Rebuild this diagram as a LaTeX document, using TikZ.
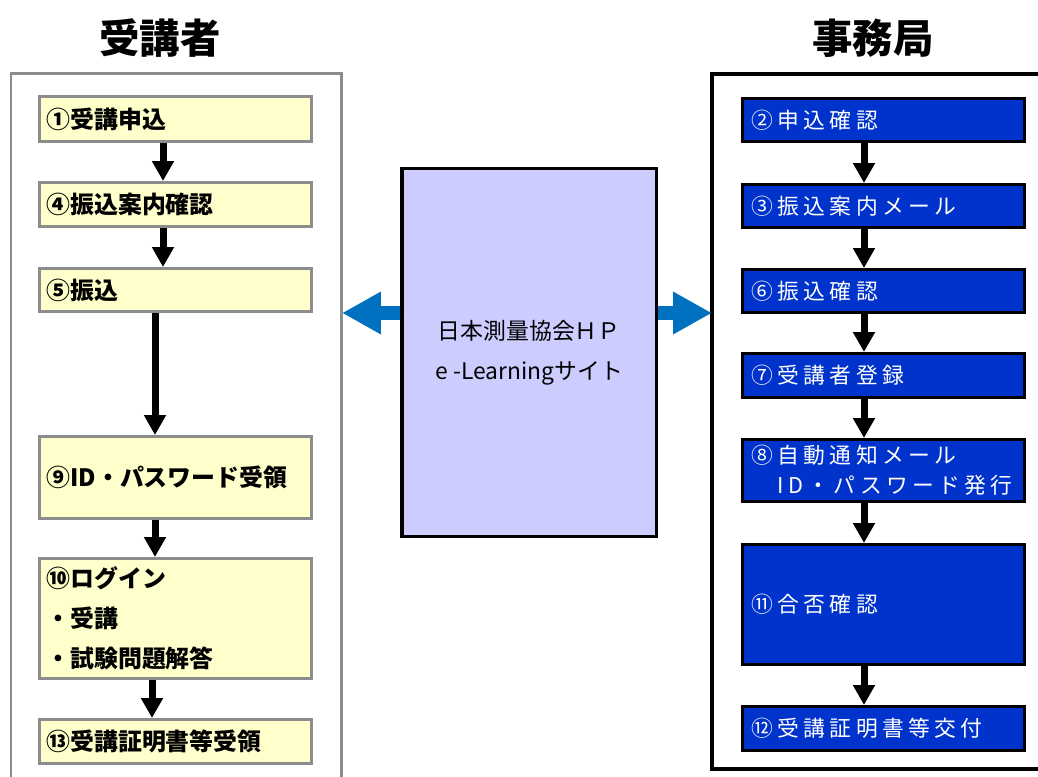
\documentclass[tikz,border=0pt]{standalone}
\usepackage{fontspec}
\setmainfont{Noto Sans CJK JP}
\usepackage{tikz}
\usetikzlibrary{arrows.meta,positioning}
\definecolor{stepyellow}{HTML}{FFFFCC}
\definecolor{officeblue}{HTML}{0033CC}
\definecolor{sitepurple}{HTML}{CCCCFF}
\definecolor{linkblue}{HTML}{0070C0}
\definecolor{framegray}{HTML}{8C8C8C}

\tikzset{
	userbox/.style={draw=framegray, line width=0.06cm, fill=stepyellow, anchor=north west,
		minimum width=5.44cm, text width=5.16cm, inner xsep=0.14cm, inner ysep=0pt, align=left,
		font=\bfseries\fontsize{13.6}{22.7}\selectfont},
	officebox/.style={draw=black, line width=0.06cm, fill=officeblue, text=white, anchor=north west,
		minimum width=5.64cm, text width=5.28cm, inner xsep=0.18cm, inner ysep=0pt, align=left,
		font=\fontsize{12.4}{17}\selectfont\addfontfeature{LetterSpace=20}},
	sitebox/.style={draw=black, line width=0.07cm, fill=sitepurple, anchor=north west,
		minimum width=5.1cm, minimum height=7.36cm, align=center,
		font=\fontsize{13}{22.7}\selectfont},
	flow/.style={line width=0.14cm, -{Triangle[width=0.42cm,length=0.4cm]}},
	link/.style={draw=linkblue, line width=0.28cm, -{Triangle[width=0.8cm,length=0.78cm]}},
	heading/.style={font=\bfseries\fontsize{23}{28}\selectfont}
}

\begin{document}
\begin{tikzpicture}[x=0.02cm, y=-0.02cm]
		\useasboundingbox (0,0) rectangle (1038,777);
		% frames
		\draw[framegray, line width=0.06cm] (11,780) -- (11,74) -- (341,74) -- (341,780);
		\draw[black, line width=0.08cm] (1045,74) -- (712,74) -- (712,769) -- (1045,769);
		\node[heading] (usertitle) at (160,38) {受講者};
		\node[heading] (officetitle) at (873,38) {事務局};
		% student side
		\node[userbox, minimum height=0.9cm] (L1) at (38,95) {①受講申込};
		\node[userbox, minimum height=0.88cm] (L4) at (38,181) {④振込案内確認};
		\node[userbox, minimum height=0.86cm] (L5) at (38,267) {⑤振込};
		\node[userbox, minimum height=1.64cm] (L9) at (38,435) {⑨ID・パスワード受領};
		\node[userbox, minimum height=2.4cm] (L10) at (38,557) {⑩ログイン\\・受講\\・試験問題解答};
		\node[userbox, minimum height=0.88cm] (L13) at (38,718) {⑬受講証明書等受領};
		\draw[flow] (163,0 |- L1.south) -- (163,0 |- L4.north);
		\draw[flow] (163,0 |- L4.south) -- (163,0 |- L5.north);
		\draw[flow] (155,0 |- L5.south) -- (155,0 |- L9.north);
		\draw[flow] (155,0 |- L9.south) -- (155,0 |- L10.north);
		\draw[flow] (152,0 |- L10.south) -- (152,0 |- L13.north);
		% office side
		\node[officebox, minimum height=0.86cm] (R2) at (741,97) {②申込確認};
		\node[officebox, minimum height=0.86cm] (R3) at (741,183) {③振込案内メール};
		\node[officebox, minimum height=0.86cm] (R6) at (741,268) {⑥振込確認};
		\node[officebox, minimum height=0.88cm] (R7) at (741,352) {⑦受講者登録};
		\node[officebox, minimum height=1.24cm] (R8) at (741,438) {⑧自動通知メール\\　ID・パスワード発行};
		\node[officebox, minimum height=2.4cm] (R11) at (741,543) {⑪合否確認};
		\node[officebox, minimum height=0.88cm] (R12) at (741,705) {⑫受講証明書等交付};
		\foreach \a/\b in {R2/R3,R3/R6,R6/R7,R7/R8,R8/R11,R11/R12}
			\draw[flow] (864,0 |- \a.south) -- (864,0 |- \b.north);
		% web site
		\coordinate (userside) at (342,313);
		\coordinate (officeside) at (712,313);
		\node[sitebox] (site) at (400,167) {日本測量協会ＨＰ\\e -Learningサイト};
		\draw[link] (site.west |- userside) -- (userside);
		\draw[link] (site.east |- officeside) -- (officeside);
\end{tikzpicture}
\end{document}
